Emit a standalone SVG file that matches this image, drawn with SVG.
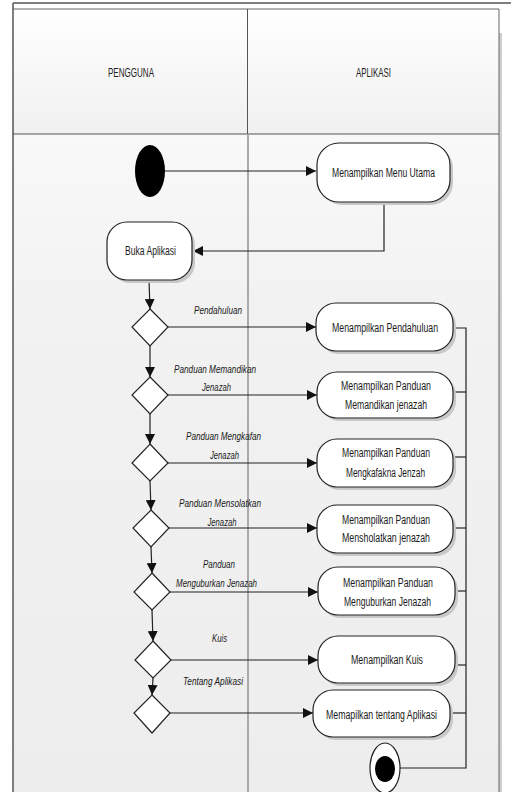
<svg xmlns="http://www.w3.org/2000/svg" width="511" height="792" viewBox="0 0 511 792">
<defs>
<linearGradient id="hdr" x1="0" y1="0" x2="0" y2="1"><stop offset="0" stop-color="#ffffff"/><stop offset="1" stop-color="#f0f0f0"/></linearGradient>
<linearGradient id="lane" x1="0" y1="0" x2="0" y2="1"><stop offset="0" stop-color="#f9f9f9"/><stop offset="0.25" stop-color="#f2f2f2"/><stop offset="1" stop-color="#ededed"/></linearGradient>
<marker id="arr" viewBox="0 0 10 10" refX="10" refY="5" markerWidth="10" markerHeight="10" markerUnits="userSpaceOnUse" orient="auto"><path d="M0,0 L10,5 L0,10 z" fill="#111"/></marker>
</defs>
<style>
.t{font-family:"Liberation Sans",Arial,sans-serif;font-size:12px;fill:#1a1a1a;text-anchor:middle}
.h{font-family:"Liberation Sans",Arial,sans-serif;font-size:12px;fill:#222;text-anchor:middle}
.l{font-family:"Liberation Sans",Arial,sans-serif;font-size:11.5px;font-style:italic;fill:#1a1a1a;text-anchor:middle}
.n{fill:#fff;stroke:#222;stroke-width:1.2}
.sh{fill:#c8c8c8}
.c{fill:none;stroke:#222;stroke-width:1.2}
.ca{fill:none;stroke:#222;stroke-width:1.2;marker-end:url(#arr)}
.d{fill:#fff;stroke:#222;stroke-width:1.2}
</style>
<rect x="0" y="0" width="511" height="792" fill="#fff"/>
<g id="pool">
<rect x="499" y="33" width="3" height="759" fill="#cfcfcf"/>
<rect x="13" y="134" width="234" height="658" fill="url(#lane)"/>
<rect x="247" y="134" width="252" height="658" fill="url(#lane)"/>
<rect x="13" y="9" width="486" height="125" fill="url(#hdr)"/>
<line x1="13" y1="3" x2="511" y2="3" stroke="#555" stroke-width="1.5"/>
<line x1="13" y1="9" x2="499" y2="9" stroke="#666" stroke-width="1"/>
<line x1="13" y1="3" x2="13" y2="792" stroke="#555" stroke-width="1.5"/>
<line x1="499" y1="9" x2="499" y2="792" stroke="#666" stroke-width="1"/>
<line x1="13" y1="134" x2="499" y2="134" stroke="#555" stroke-width="1"/>
<line x1="247.5" y1="9" x2="247.5" y2="134" stroke="#555" stroke-width="1"/>
<line x1="248" y1="134" x2="248" y2="792" stroke="#aaa" stroke-width="2"/>
<text class="h" x="131" y="77" textLength="46" lengthAdjust="spacingAndGlyphs">PENGGUNA</text>
<text class="h" x="373.5" y="77" textLength="35" lengthAdjust="spacingAndGlyphs">APLIKASI</text>
</g>
<g id="connectors">
<line class="ca" x1="165" y1="171" x2="316" y2="171"/>
<polyline class="ca" points="384,202 384,251 193,251"/>
<line class="ca" x1="149" y1="280" x2="150" y2="309"/>
<line class="ca" x1="150" y1="346" x2="150" y2="377"/>
<line class="ca" x1="150" y1="414" x2="150" y2="444"/>
<line class="ca" x1="150" y1="481" x2="151" y2="510"/>
<line class="ca" x1="151" y1="547" x2="152" y2="573"/>
<line class="ca" x1="152" y1="610" x2="153" y2="641"/>
<line class="ca" x1="153" y1="678" x2="152" y2="695"/>
<line class="ca" x1="168" y1="327" x2="316" y2="327"/>
<line class="ca" x1="168" y1="395" x2="317" y2="395"/>
<line class="ca" x1="168" y1="463" x2="317" y2="463"/>
<line class="ca" x1="169" y1="528" x2="317" y2="528"/>
<line class="ca" x1="170" y1="592" x2="318" y2="592"/>
<line class="ca" x1="171" y1="660" x2="318" y2="660"/>
<line class="ca" x1="170" y1="713" x2="313" y2="713"/>
<polyline class="c" points="400,768 466,768 466,328 453,328"/>
<line class="c" x1="453" y1="392" x2="466" y2="392"/>
<line class="c" x1="453" y1="457" x2="466" y2="457"/>
<line class="c" x1="453" y1="528" x2="466" y2="528"/>
<line class="c" x1="455" y1="591" x2="466" y2="591"/>
<line class="c" x1="455" y1="665" x2="466" y2="665"/>
<line class="c" x1="450" y1="713" x2="466" y2="713"/>
<text class="l" x="218" y="314" textLength="48" lengthAdjust="spacingAndGlyphs">Pendahuluan</text>
<text class="l" x="215" y="373" textLength="82" lengthAdjust="spacingAndGlyphs">Panduan Memandikan</text>
<text class="l" x="216.5" y="391" textLength="29" lengthAdjust="spacingAndGlyphs">Jenazah</text>
<text class="l" x="223.5" y="440" textLength="75" lengthAdjust="spacingAndGlyphs">Panduan Mengkafan</text>
<text class="l" x="224.5" y="459" textLength="29" lengthAdjust="spacingAndGlyphs">Jenazah</text>
<text class="l" x="220" y="507" textLength="82" lengthAdjust="spacingAndGlyphs">Panduan Mensolatkan</text>
<text class="l" x="222" y="526" textLength="29" lengthAdjust="spacingAndGlyphs">Jenazah</text>
<text class="l" x="219" y="568" textLength="32" lengthAdjust="spacingAndGlyphs">Panduan</text>
<text class="l" x="216.5" y="587" textLength="81" lengthAdjust="spacingAndGlyphs">Menguburkan Jenazah</text>
<text class="l" x="219.5" y="642" textLength="15" lengthAdjust="spacingAndGlyphs">Kuis</text>
<text class="l" x="213" y="685" textLength="60" lengthAdjust="spacingAndGlyphs">Tentang Aplikasi</text>
</g>
<g id="start"><ellipse cx="150" cy="171" rx="15" ry="26" fill="#000"/></g>
<g id="menu-utama">
<rect class="sh" x="320" y="146" width="133" height="59" rx="22"/>
<rect class="n" x="317" y="143" width="133" height="59" rx="22"/>
<text class="t" x="383.5" y="177" textLength="103" lengthAdjust="spacingAndGlyphs">Menampilkan Menu Utama</text>
</g>
<g id="buka-aplikasi">
<rect class="sh" x="110" y="225" width="85" height="58" rx="20"/>
<rect class="n" x="107" y="222" width="85" height="58" rx="20"/>
<text class="t" x="150.5" y="255" textLength="51" lengthAdjust="spacingAndGlyphs">Buka Aplikasi</text>
</g>
<g id="d1"><polygon class="d" points="150,309 168,327 150,346 132,327"/></g>
<g id="d2"><polygon class="d" points="150,377 168,395 150,414 132,395"/></g>
<g id="d3"><polygon class="d" points="150,444 168,463 150,481 132,463"/></g>
<g id="d4"><polygon class="d" points="151,510 169,528 151,547 133,528"/></g>
<g id="d5"><polygon class="d" points="152,573 170,592 152,610 134,592"/></g>
<g id="d6"><polygon class="d" points="153,641 171,660 153,678 135,660"/></g>
<g id="d7"><polygon class="d" points="152,695 170,713 152,733 134,713"/></g>
<g id="n1">
<rect class="sh" x="319" y="306" width="137" height="48" rx="20"/>
<rect class="n" x="316" y="303" width="137" height="48" rx="20"/>
<text class="t" x="385" y="332" textLength="106" lengthAdjust="spacingAndGlyphs">Menampilkan Pendahuluan</text>
</g>
<g id="n2">
<rect class="sh" x="320" y="375" width="136" height="46" rx="20"/>
<rect class="n" x="317" y="372" width="136" height="46" rx="20"/>
<text class="t" x="386" y="390" textLength="90" lengthAdjust="spacingAndGlyphs">Menampilkan Panduan</text>
<text class="t" x="386" y="409" textLength="82" lengthAdjust="spacingAndGlyphs">Memandikan jenazah</text>
</g>
<g id="n3">
<rect class="sh" x="320" y="442" width="136" height="48" rx="20"/>
<rect class="n" x="317" y="439" width="136" height="48" rx="20"/>
<text class="t" x="386" y="457" textLength="88" lengthAdjust="spacingAndGlyphs">Menampilkan Panduan</text>
<text class="t" x="385.5" y="477" textLength="79" lengthAdjust="spacingAndGlyphs">Mengkafakna Jenzah</text>
</g>
<g id="n4">
<rect class="sh" x="320" y="508" width="136" height="48" rx="20"/>
<rect class="n" x="317" y="505" width="136" height="48" rx="20"/>
<text class="t" x="386" y="524" textLength="88" lengthAdjust="spacingAndGlyphs">Menampilkan Panduan</text>
<text class="t" x="386" y="542" textLength="88" lengthAdjust="spacingAndGlyphs">Mensholatkan jenazah</text>
</g>
<g id="n5">
<rect class="sh" x="321" y="570" width="137" height="48" rx="20"/>
<rect class="n" x="318" y="567" width="137" height="48" rx="20"/>
<text class="t" x="388" y="587" textLength="90" lengthAdjust="spacingAndGlyphs">Menampilkan Panduan</text>
<text class="t" x="387.5" y="606" textLength="87" lengthAdjust="spacingAndGlyphs">Menguburkan Jenazah</text>
</g>
<g id="n6">
<rect class="sh" x="321" y="639" width="137" height="47" rx="20"/>
<rect class="n" x="318" y="636" width="137" height="47" rx="20"/>
<text class="t" x="387" y="664" textLength="72" lengthAdjust="spacingAndGlyphs">Menampilkan Kuis</text>
</g>
<g id="n7">
<rect class="sh" x="316" y="693" width="137" height="47" rx="20"/>
<rect class="n" x="313" y="690" width="137" height="47" rx="20"/>
<text class="t" x="381.5" y="719" textLength="111" lengthAdjust="spacingAndGlyphs">Memapilkan tentang Aplikasi</text>
</g>
<g id="end">
<ellipse cx="385" cy="768" rx="15" ry="25" fill="#fff" stroke="#222" stroke-width="1.2"/>
<ellipse cx="385" cy="769" rx="10" ry="13" fill="#000"/>
</g>
</svg>
